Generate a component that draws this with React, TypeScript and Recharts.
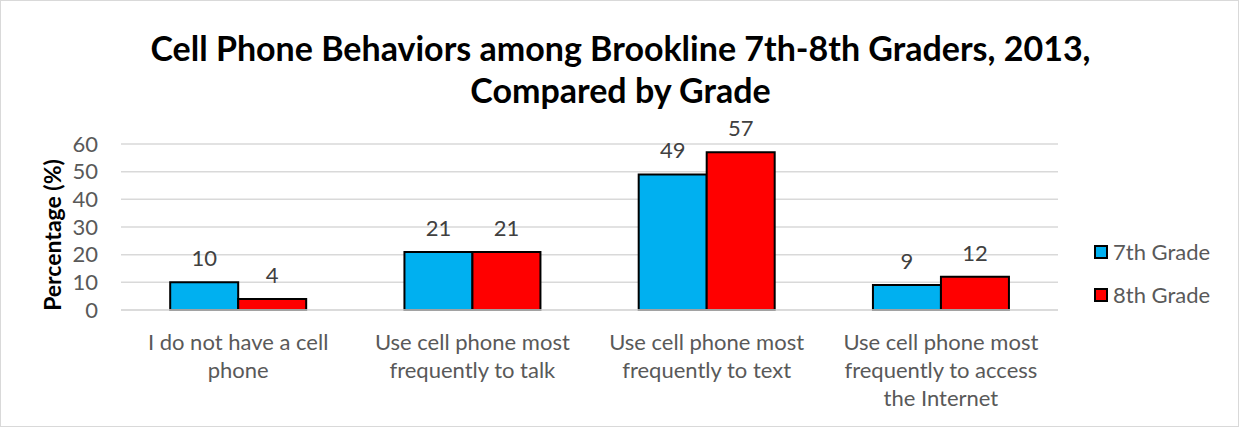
import React from "react";
import {
  BarChart,
  Bar,
  XAxis,
  YAxis,
  CartesianGrid,
  LabelList,
} from "recharts";

const categories = [
  "I do not have a cell phone",
  "Use cell phone most frequently to talk",
  "Use cell phone most frequently to text",
  "Use cell phone most frequently to access the Internet",
];
const categoryLines = [
  ["I do not have a cell", "phone"],
  ["Use cell phone most", "frequently to talk"],
  ["Use cell phone most", "frequently to text"],
  ["Use cell phone most", "frequently to access", "the Internet"],
];
const grade7 = [10, 21, 49, 9];
const grade8 = [4, 21, 57, 12];
const yTicks = [0, 10, 20, 30, 40, 50, 60];

const data = categories.map((name, i) => ({
  name,
  g7: grade7[i],
  g8: grade8[i],
}));

const FONT = "Lato, 'Open Sans', sans-serif";
const GRAY = "#595959";

function CategoryTick(props: any) {
  const { x, y, index } = props;
  const lines = categoryLines[index] ?? [];
  return (
    <text x={x} y={y} textAnchor="middle" fill={GRAY} fontSize={22} fontFamily={FONT}>
      {lines.map((l, i) => (
        <tspan key={i} x={x} dy={i === 0 ? 32 : 28}>
          {l}
        </tspan>
      ))}
    </text>
  );
}

function LegendBox() {
  const items = [
    { label: "7th Grade", color: "#00B0F0" },
    { label: "8th Grade", color: "#FF0000" },
  ];
  return (
    <div style={{ fontFamily: FONT, fontSize: 22, color: GRAY }}>
      {items.map((it) => (
        <div key={it.label} style={{ display: "flex", alignItems: "center", height: 43 }}>
          <span
            style={{
              width: 10,
              height: 10,
              background: it.color,
              border: "2px solid #000",
              marginRight: 5,
            }}
          />
          {it.label}
        </div>
      ))}
    </div>
  );
}

export default function App() {
  return (
    <div
      style={{
        position: "absolute",
        left: 0,
        top: 0,
        width: 1239,
        height: 427,
        background: "#fff",
        boxSizing: "border-box",
        border: "1px solid #d9d9d9",
        fontFamily: FONT,
      }}
    >
      <div
        style={{
          position: "absolute",
          left: 0,
          top: 26,
          width: 1239,
          textAlign: "center",
          fontWeight: "bold",
          fontSize: 34,
          lineHeight: "42px",
          color: "#000",
        }}
      >
        Cell Phone Behaviors among Brookline 7th-8th Graders, 2013,
        <br />
        Compared by Grade
      </div>
      <div
        style={{
          position: "absolute",
          left: 51,
          top: 234,
          transform: "translate(-50%, -50%) rotate(-90deg)",
          fontWeight: "bold",
          fontSize: 23,
          whiteSpace: "nowrap",
          color: "#000",
        }}
      >
        Percentage (%)
      </div>
      <div style={{ position: "absolute", left: 1093, top: 229 }}>
        <LegendBox />
      </div>
      <div style={{ position: "absolute", left: -1, top: -1 }}>
        <BarChart
          width={1239}
          height={427}
          data={data}
          margin={{ top: 144, right: 181, left: 0, bottom: 7 }}
          barCategoryGap="21%"
          barGap={0}
        >
          <CartesianGrid vertical={false} stroke="#d9d9d9" strokeWidth={1.5} />
          <XAxis
            dataKey="name"
            height={110}
            tick={<CategoryTick />}
            tickLine={false}
            axisLine={{ stroke: "#d9d9d9", strokeWidth: 1.5 }}
            interval={0}
          />
          <YAxis
            width={121}
            domain={[0, 60]}
            ticks={yTicks}
            interval={0}
            tickLine={false}
            tickSize={0}
            tickMargin={23}
            axisLine={false}
            tick={{ fill: GRAY, fontSize: 22, fontFamily: FONT }}
          />
          <Bar dataKey="g7" name="7th Grade" fill="#00B0F0" stroke="#000" strokeWidth={2} isAnimationActive={false}>
            <LabelList dataKey="g7" position="top" offset={16} fill="#404040" fontSize={22} fontFamily={FONT} />
          </Bar>
          <Bar dataKey="g8" name="8th Grade" fill="#FF0000" stroke="#000" strokeWidth={2} isAnimationActive={false}>
            <LabelList dataKey="g8" position="top" offset={16} fill="#404040" fontSize={22} fontFamily={FONT} />
          </Bar>
        </BarChart>
      </div>
    </div>
  );
}
